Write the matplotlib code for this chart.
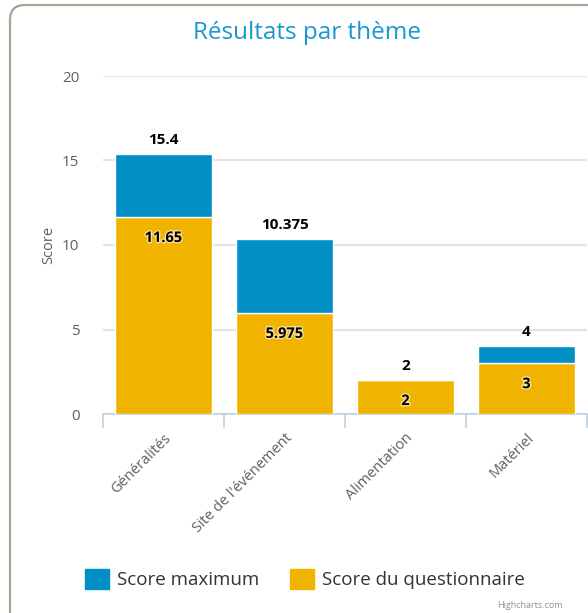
import matplotlib
matplotlib.use("Agg")
import matplotlib.pyplot as plt
import matplotlib.patheffects as pe
from matplotlib.patches import FancyBboxPatch
from matplotlib.ticker import FixedLocator

# ── data ──────────────────────────────────────────────────────────────────────
categories = ["Généralités", "Site de l'événement", "Alimentation", "Matériel"]
score_max = [15.4, 10.375, 2, 4]
score_quest = [11.65, 5.975, 2, 3]
y_ticks = [0, 5, 10, 15, 20]

BLUE = "#0090c6"
YELLOW = "#f0b400"
TXT = "#606060"
FONT = ["Open Sans", "DejaVu Sans"]

plt.rcParams["font.family"] = FONT

W, H = 588, 613
fig = plt.figure(figsize=(W / 100, H / 100), dpi=100, facecolor="white")

# rounded frame (cropped on right and bottom)
frame = FancyBboxPatch((10 / W, -0.1), 1.2, 1 - 5 / H + 0.1,
                       boxstyle="round,pad=0,rounding_size=0.025",
                       transform=fig.transFigure, fill=False,
                       edgecolor="#aaa293", linewidth=1.6, clip_on=False)
fig.patches.append(frame)

ax = fig.add_axes([103 / W, 1 - 414 / H, 484 / W, 338 / H])
ax.set_facecolor("none")

x = list(range(len(categories)))
diff = [m - q for m, q in zip(score_max, score_quest)]
ax.bar(x, score_quest, width=0.8, color=YELLOW, edgecolor="white", linewidth=1, zorder=3)
ax.bar(x, diff, bottom=score_quest, width=0.8, color=BLUE, edgecolor="white", linewidth=1, zorder=3)

ax.set_xlim(-0.5, len(categories) - 0.5)
ax.set_ylim(0, 20)

# labels
glow = [pe.withStroke(linewidth=2, foreground="#fff3c8", alpha=0.7)]
for xi, m, q in zip(x, score_max, score_quest):
    ax.annotate(f"{m:g}", (xi, m), xytext=(0, 5), textcoords="offset points",
                ha="center", va="bottom", fontsize=11, fontweight="bold", color="black")
    ax.annotate(f"{q:g}", (xi, q), xytext=(0, -15), textcoords="offset points",
                ha="center", va="center", fontsize=10.5, fontweight="bold",
                color="black", path_effects=glow, zorder=5)

# axes styling
for s in ["top", "right", "left"]:
    ax.spines[s].set_visible(False)
ax.spines["bottom"].set_color("#c0d0e0")
ax.spines["bottom"].set_linewidth(1.2)
ax.yaxis.set_major_locator(FixedLocator(y_ticks))
ax.grid(axis="y", color="#e3e3e3", linewidth=1.5, zorder=0)
ax.tick_params(axis="y", length=0, pad=17, labelsize=11, labelcolor=TXT)
ax.set_ylabel("Score", fontsize=10.5, color=TXT, labelpad=4)

ax.set_xticks(x)
ax.set_xticklabels(categories, rotation=45, ha="right", rotation_mode="anchor",
                   fontsize=10.5, color=TXT)
ax.tick_params(axis="x", which="major", length=0, pad=12)
ax.set_xticks([i - 0.5 for i in range(len(categories) + 1)], minor=True)
ax.tick_params(axis="x", which="minor", length=10, width=1.2, color="#c0d0e0")

fig.text(307 / W, 1 - 33 / H, "Résultats par thème", ha="center", va="center",
         fontsize=17.5, color="#1a96d2")

# legend
handles = [plt.Rectangle((0, 0), 1, 1, color=BLUE),
           plt.Rectangle((0, 0), 1, 1, color=YELLOW)]
fig.legend(handles, ["Score maximum", "Score du questionnaire"], loc="center",
           bbox_to_anchor=(305 / W, 1 - 579 / H), ncol=2, frameon=False,
           fontsize=13.5, handlelength=1.3, handleheight=1.3, columnspacing=1.6,
           handletextpad=0.45, labelcolor="#333333")

fig.text(497 / W, 1 - 606 / H, "Highcharts.com", fontsize=6.5, color="#909090",
         ha="left", va="center")

fig.savefig("out.png", dpi=100, facecolor="white")
